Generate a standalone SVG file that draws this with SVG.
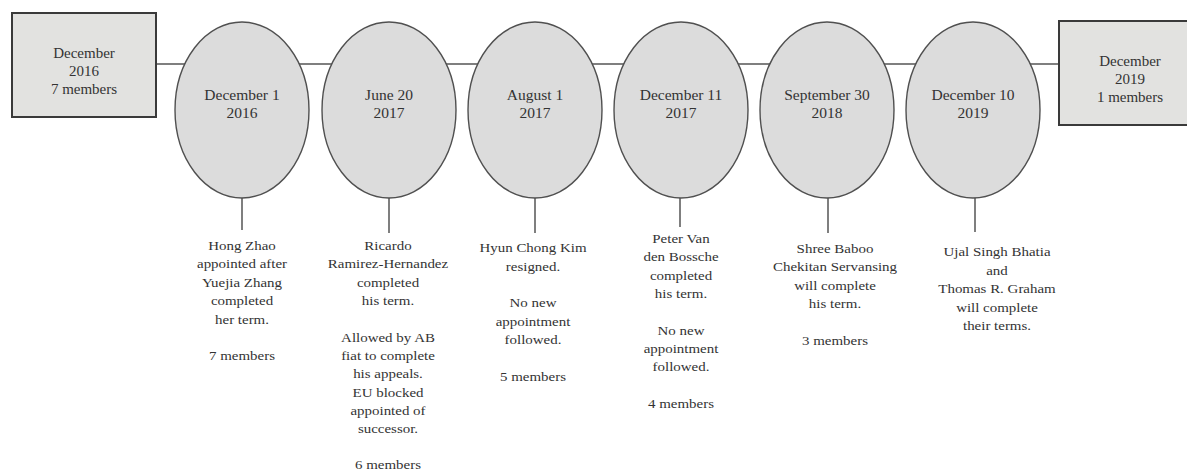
<svg xmlns="http://www.w3.org/2000/svg" width="1187" height="470" viewBox="0 0 1187 470">
<style>
.bg{fill:#ffffff}
.box{fill:#e2e2e0;stroke:#3a3a3a;stroke-width:2}
.ell{fill:#dcdcdc;stroke:#505050;stroke-width:1.4}
.ln{stroke:#555555;stroke-width:1.5;fill:none}
.t{font-family:"Liberation Serif","Times New Roman",serif;fill:#333333;text-anchor:middle}
.tb{font-size:15px}
.te{font-size:15.5px}
.tn{font-size:13px}
</style>
<rect class="bg" x="0" y="0" width="1187" height="470"/>
<g id="connectors">
<line class="ln" x1="156" y1="64" x2="1059" y2="64"/>
<line class="ln" x1="242" y1="198" x2="242" y2="230"/>
<line class="ln" x1="389" y1="198" x2="389" y2="233"/>
<line class="ln" x1="535" y1="198" x2="535" y2="233"/>
<line class="ln" x1="680" y1="198" x2="680" y2="227"/>
<line class="ln" x1="828" y1="198" x2="828" y2="233"/>
<line class="ln" x1="975" y1="198" x2="975" y2="232"/>
</g>
<g id="start">
<rect class="box" x="12" y="13" width="144" height="104"/>
<text class="t tb" x="84" y="57.5">December</text>
<text class="t tb" x="84" y="76">2016</text>
<text class="t tb" x="84" y="94">7 members</text>
</g>
<g id="end">
<rect class="box" x="1059" y="21" width="144" height="104"/>
<text class="t tb" x="1130" y="65.5">December</text>
<text class="t tb" x="1130" y="84">2019</text>
<text class="t tb" x="1130" y="102">1 members</text>
</g>
<g id="e1">
<ellipse class="ell" cx="242" cy="110" rx="67" ry="88"/>
<text class="t te" x="242" y="100">December 1</text>
<text class="t te" x="242" y="118">2016</text>
</g>
<g id="e2">
<ellipse class="ell" cx="389" cy="110" rx="67" ry="88"/>
<text class="t te" x="389" y="100">June 20</text>
<text class="t te" x="389" y="118">2017</text>
</g>
<g id="e3">
<ellipse class="ell" cx="535" cy="110" rx="67" ry="88"/>
<text class="t te" x="535" y="100">August 1</text>
<text class="t te" x="535" y="118">2017</text>
</g>
<g id="e4">
<ellipse class="ell" cx="681" cy="110" rx="67" ry="88"/>
<text class="t te" x="681" y="100">December 11</text>
<text class="t te" x="681" y="118">2017</text>
</g>
<g id="e5">
<ellipse class="ell" cx="827" cy="110" rx="67" ry="88"/>
<text class="t te" x="827" y="100">September 30</text>
<text class="t te" x="827" y="118">2018</text>
</g>
<g id="e6">
<ellipse class="ell" cx="973" cy="110" rx="67" ry="88"/>
<text class="t te" x="973" y="100">December 10</text>
<text class="t te" x="973" y="118">2019</text>
</g>
<g id="n1" transform="translate(242 0) scale(1.15 1)">
<text class="t tn" x="0" y="250">Hong Zhao</text>
<text class="t tn" x="0" y="268.4">appointed after</text>
<text class="t tn" x="0" y="286.8">Yuejia Zhang</text>
<text class="t tn" x="0" y="305.2">completed</text>
<text class="t tn" x="0" y="323.6">her term.</text>
<text class="t tn" x="0" y="360.4">7 members</text>
</g>
<g id="n2" transform="translate(388 0) scale(1.15 1)">
<text class="t tn" x="0" y="250">Ricardo</text>
<text class="t tn" x="0" y="268.3">Ramirez-Hernandez</text>
<text class="t tn" x="0" y="286.6">completed</text>
<text class="t tn" x="0" y="305">his term.</text>
<text class="t tn" x="0" y="341.6">Allowed by AB</text>
<text class="t tn" x="0" y="360">fiat to complete</text>
<text class="t tn" x="0" y="378.3">his appeals.</text>
<text class="t tn" x="0" y="396.6">EU blocked</text>
<text class="t tn" x="0" y="415">appointed of</text>
<text class="t tn" x="0" y="433.3">successor.</text>
<text class="t tn" x="0" y="469.5">6 members</text>
</g>
<g id="n3" transform="translate(533 0) scale(1.15 1)">
<text class="t tn" x="0" y="252.5">Hyun Chong Kim</text>
<text class="t tn" x="0" y="270.8">resigned.</text>
<text class="t tn" x="0" y="307.5">No new</text>
<text class="t tn" x="0" y="325.8">appointment</text>
<text class="t tn" x="0" y="344.2">followed.</text>
<text class="t tn" x="0" y="381">5 members</text>
</g>
<g id="n4" transform="translate(681 0) scale(1.15 1)">
<text class="t tn" x="0" y="243">Peter Van</text>
<text class="t tn" x="0" y="261.3">den Bossche</text>
<text class="t tn" x="0" y="279.6">completed</text>
<text class="t tn" x="0" y="298">his term.</text>
<text class="t tn" x="0" y="334.6">No new</text>
<text class="t tn" x="0" y="353">appointment</text>
<text class="t tn" x="0" y="371.3">followed.</text>
<text class="t tn" x="0" y="408.5">4 members</text>
</g>
<g id="n5" transform="translate(835 0) scale(1.15 1)">
<text class="t tn" x="0" y="253">Shree Baboo</text>
<text class="t tn" x="0" y="271.3">Chekitan Servansing</text>
<text class="t tn" x="0" y="289.6">will complete</text>
<text class="t tn" x="0" y="308">his term.</text>
<text class="t tn" x="0" y="344.6">3 members</text>
</g>
<g id="n6" transform="translate(997 0) scale(1.15 1)">
<text class="t tn" x="0" y="256.5">Ujal Singh Bhatia</text>
<text class="t tn" x="0" y="275">and</text>
<text class="t tn" x="0" y="293.3">Thomas R. Graham</text>
<text class="t tn" x="0" y="311.6">will complete</text>
<text class="t tn" x="0" y="330">their terms.</text>
</g>
</svg>
